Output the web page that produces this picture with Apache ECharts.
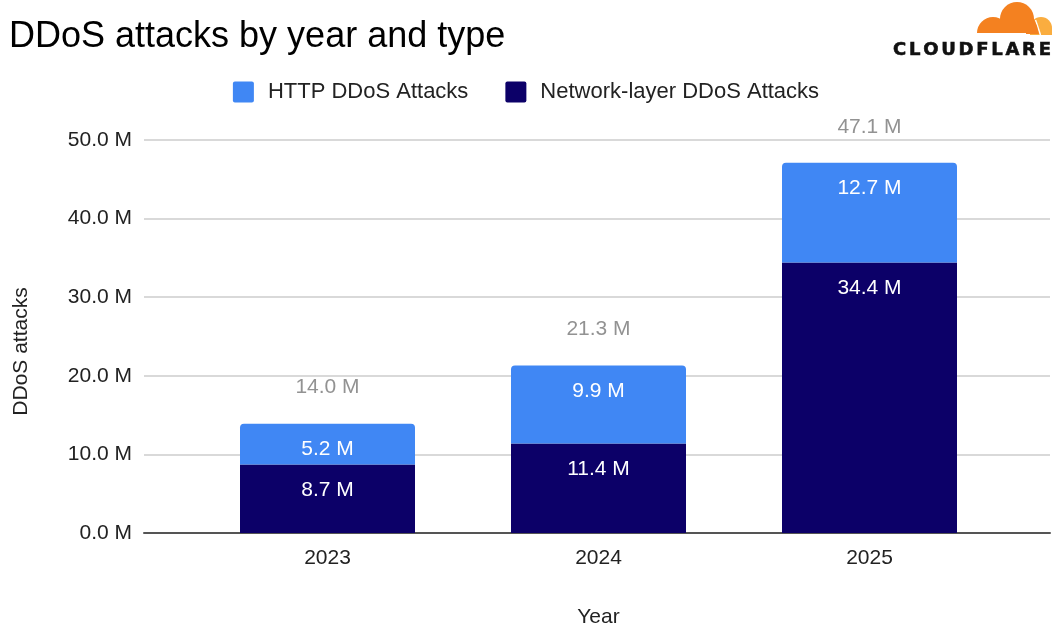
<!DOCTYPE html>
<html>
<head>
<meta charset="utf-8">
<script src="https://cdn.jsdelivr.net/npm/echarts@6/dist/echarts.min.js"></script>
<style>html,body{margin:0;padding:0;background:#fff}#c{width:1052px;height:624px}</style>
</head>
<body>
<div id="c"></div>
<script>
const years = ['2023', '2024', '2025'];
const networkLayer = [8.7, 11.4, 34.4];
const httpAttacks = [5.2, 9.9, 12.7];
const totals = [14.0, 21.3, 47.1];
const yTicks = [0, 10, 20, 30, 40, 50];

const FONT = '"Liberation Sans", Arial, sans-serif';
const fmt = v => Number(v).toFixed(1) + ' M';
const UP = { startAngle: Math.PI, endAngle: 2 * Math.PI, clockwise: true };
const LEGEND_ICON = 'path://M2,0 H19 Q21,0 21,2 V19 Q21,21 19,21 H2 Q0,21 0,19 V2 Q0,0 2,0 Z';

// Logo wordmark laid out letter by letter (wide tracking)
const LOGO_TEXT = 'CLOUDFLARE';
const LOGO_FONT = 'bold 18px "DejaVu Sans", sans-serif';
const logoX0 = 893, logoX1 = 1051;
const mctx = document.createElement('canvas').getContext('2d');
mctx.font = LOGO_FONT;
const widths = LOGO_TEXT.split('').map(ch => mctx.measureText(ch).width);
const sumW = widths.reduce((a, b) => a + b, 0);
const spacing = (logoX1 - logoX0 - sumW) / (LOGO_TEXT.length - 1);
const logoLetters = [];
let lx = logoX0;
LOGO_TEXT.split('').forEach((ch, i) => {
  logoLetters.push({ type: 'text', z: 100, x: lx, y: 50,
    style: { text: ch, font: LOGO_FONT, fill: '#111', stroke: '#111', lineWidth: 0.6,
      textVerticalAlign: 'middle', verticalAlign: 'middle' } });
  lx += widths[i] + spacing;
});

const chart = echarts.init(document.getElementById('c'));
chart.setOption({
  backgroundColor: '#ffffff',
  animation: false,
  textStyle: { fontFamily: FONT },
  title: {
    text: 'DDoS attacks by year and type',
    left: 4, top: 14,
    textStyle: { fontFamily: FONT, fontSize: 36, fontWeight: 'normal', color: '#000' }
  },
  legend: {
    data: ['HTTP DDoS Attacks', 'Network-layer DDoS Attacks'],
    top: 76, left: 'center',
    icon: LEGEND_ICON, itemWidth: 21, itemHeight: 21, itemGap: 37,
    textStyle: { fontFamily: FONT, fontSize: 22, color: '#222', padding: [0, 0, 0, 9] }
  },
  grid: [
    { left: 144, right: 2, top: 140, bottom: 91, outerBoundsMode: 'none', containLabel: false },
    { left: 192, right: 47, top: 140, bottom: 91, outerBoundsMode: 'none', containLabel: false }
  ],
  xAxis: [
    { type: 'category', gridIndex: 0, data: [''],
      axisLine: { lineStyle: { color: '#555', width: 2 } },
      axisTick: { show: false }, axisLabel: { show: false } },
    { type: 'category', gridIndex: 1, data: years,
      axisLine: { show: false }, axisTick: { show: false },
      axisLabel: { fontFamily: FONT, fontSize: 21, color: '#222', margin: 15 },
      name: 'Year', nameLocation: 'middle', nameGap: 74,
      nameTextStyle: { fontFamily: FONT, fontSize: 21, color: '#222' } }
  ],
  yAxis: [
    { type: 'value', gridIndex: 0, min: yTicks[0], max: yTicks[yTicks.length - 1], interval: 10,
      axisLine: { show: false }, axisTick: { show: false },
      axisLabel: { fontFamily: FONT, fontSize: 21, color: '#222', margin: 12, formatter: fmt },
      splitLine: { lineStyle: { color: '#cccccc', width: 1.5 } },
      name: 'DDoS attacks', nameLocation: 'middle', nameGap: 112,
      nameTextStyle: { fontFamily: FONT, fontSize: 21, color: '#222', padding: [0, 30, 0, 0] } },
    { type: 'value', gridIndex: 1, min: yTicks[0], max: yTicks[yTicks.length - 1], interval: 10,
      show: false, splitLine: { show: false } }
  ],
  series: [
    { name: 'Network-layer DDoS Attacks', type: 'bar', stack: 'a', xAxisIndex: 1, yAxisIndex: 1,
      data: networkLayer, barWidth: 175, itemStyle: { color: '#0c0068' },
      label: { show: true, position: 'insideTop', distance: 15, formatter: p => fmt(p.value),
        fontFamily: FONT, fontSize: 21, color: '#fff' } },
    { name: 'HTTP DDoS Attacks', type: 'bar', stack: 'a', xAxisIndex: 1, yAxisIndex: 1,
      data: httpAttacks, barWidth: 175, itemStyle: { color: '#4087f4', borderRadius: [4, 4, 0, 0] },
      label: { show: true, position: 'insideTop', distance: 15, formatter: p => fmt(p.value),
        fontFamily: FONT, fontSize: 21, color: '#fff' } },
    { name: 'Total', type: 'scatter', xAxisIndex: 1, yAxisIndex: 1, symbolSize: 1,
      itemStyle: { color: 'rgba(0,0,0,0)' }, data: totals,
      label: { show: true, position: 'top', distance: 25, formatter: p => fmt(p.value),
        fontFamily: FONT, fontSize: 21, color: '#777' } }
  ],
  graphic: [
    { type: 'sector', z: 100, shape: Object.assign({ cx: 1041, cy: 28, r: 11 }, UP), style: { fill: '#faad3f' } },
    { type: 'rect', z: 100, shape: { x: 1030, y: 28, width: 22, height: 7 }, style: { fill: '#faad3f' } },
    { type: 'line', z: 101, shape: { x1: 1035.5, y1: 20, x2: 1040.5, y2: 35 }, style: { stroke: '#ffffff', lineWidth: 1.5 } },
    { type: 'sector', z: 102, shape: Object.assign({ cx: 993, cy: 33, r: 16 }, UP), style: { fill: '#f48120' } },
    { type: 'sector', z: 102, shape: Object.assign({ cx: 1017, cy: 19, r: 17 }, UP), style: { fill: '#f48120' } },
    { type: 'rect', z: 102, shape: { x: 990, y: 19, width: 44, height: 14 }, style: { fill: '#f48120' } },
    { type: 'polygon', z: 102, shape: { points: [[1026, 19], [1034, 19], [1037, 26], [1039, 34], [1026, 34]] },
      style: { fill: '#f48120' } }
  ].concat(logoLetters)
});
</script>
</body>
</html>
